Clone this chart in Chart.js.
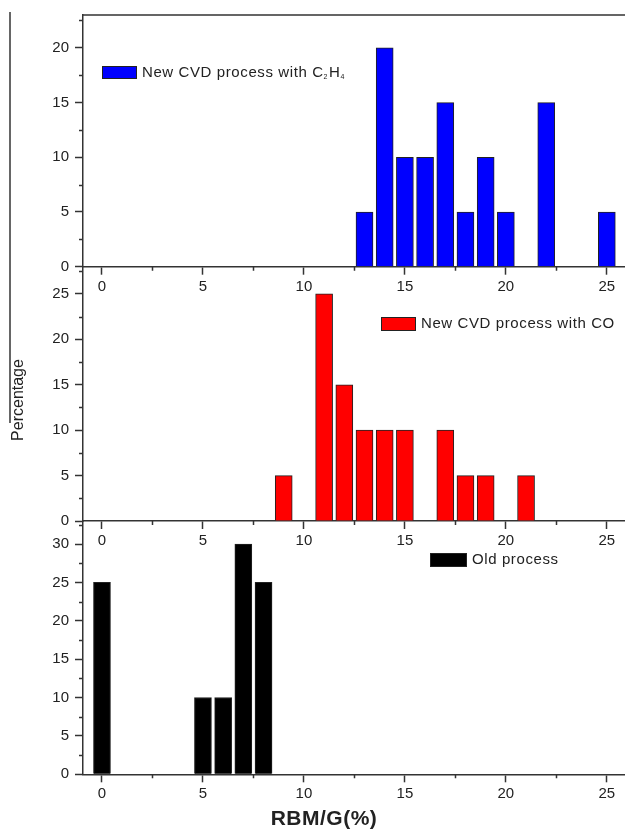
<!DOCTYPE html>
<html>
<head>
<meta charset="utf-8">
<script src="https://cdn.jsdelivr.net/npm/chart.js@4.4.1/dist/chart.umd.min.js"></script>
<style>
    html, body { margin: 0; padding: 0; background: #fff; }
    #wrap { position: relative; width: 625px; height: 831px; }
    #wrap canvas { position: absolute; left: 0; top: 0; }
</style>
</head>
<body>
<div id="wrap">
    <canvas id="c2h4Canvas" width="625" height="831"></canvas>
    <canvas id="coCanvas" width="625" height="831"></canvas>
    <canvas id="oldCanvas" width="625" height="831"></canvas>
</div>
<script>
// RBM/G (%) bins and percentage of tubes per bin, one set per process
const c2h4Bins = [13, 14, 15, 16, 17, 18, 19, 20, 22, 25];
const c2h4Percent = [5, 20, 10, 10, 15, 5, 10, 5, 15, 5];
const coBins = [9, 11, 12, 13, 14, 15, 17, 18, 19, 21];
const coPercent = [5, 25, 15, 10, 10, 10, 10, 5, 5, 5];
const oldBins = [0, 5, 6, 7, 8];
const oldPercent = [25, 10, 10, 30, 25];

// tick labels
const xTicks = [0, 5, 10, 15, 20, 25];
const xMinorTicks = [2.5, 7.5, 12.5, 17.5, 22.5];
const c2h4YTicks = [0, 5, 10, 15, 20];
const c2h4YMinor = [2.5, 7.5, 12.5, 17.5, 22.5];
const coYTicks = [0, 5, 10, 15, 20, 25];
const coYMinor = [2.5, 7.5, 12.5, 17.5, 22.5, 27.5];
const oldYTicks = [0, 5, 10, 15, 20, 25, 30];
const oldYMinor = [2.5, 7.5, 12.5, 17.5, 22.5, 27.5, 32.5];

const FONT = "'Liberation Sans', Arial, sans-serif";
const AXIS = "#333";

const panelDecor = {
    id: "panelDecor",
    afterDraw(chart, args, opts) {
        const ctx = chart.ctx;
        const { left, right, top, bottom } = chart.chartArea;
        const xs = chart.scales.x;
        const ys = chart.scales.y;
        ctx.save();
        ctx.strokeStyle = AXIS;
        ctx.lineWidth = 1.5;
        ctx.beginPath();
        opts.xMinor.forEach((v) => {
            const px = Math.round(xs.getPixelForValue(v)) + 0.5;
            ctx.moveTo(px, bottom);
            ctx.lineTo(px, bottom + 4);
        });
        opts.yMinor.forEach((v) => {
            const py = Math.round(ys.getPixelForValue(v)) + 0.5;
            ctx.moveTo(left, py);
            ctx.lineTo(left - 4, py);
        });
        if (opts.topLine) {
            ctx.moveTo(left, top);
            ctx.lineTo(right, top);
        }
        ctx.stroke();

        // legend box + label
        const lg = opts.legend;
        ctx.fillStyle = lg.color;
        ctx.fillRect(lg.x, lg.y, lg.w, lg.h);
        ctx.lineWidth = 1;
        ctx.strokeStyle = "#222";
        ctx.strokeRect(lg.x + 0.5, lg.y + 0.5, lg.w - 1, lg.h - 1);
        ctx.fillStyle = "#222";
        ctx.textBaseline = "middle";
        ctx.letterSpacing = "0.6px";
        let tx = lg.x + lg.w + 5;
        const ty = lg.y + lg.h / 2;
        lg.parts.forEach((p) => {
            ctx.font = p.sub ? "7px " + FONT : "15px " + FONT;
            ctx.fillText(p.text, tx, p.sub ? ty + 5 : ty);
            tx += ctx.measureText(p.text).width + (p.sub ? 1 : 0);
        });

        if (opts.extras) {
            ctx.letterSpacing = "0px";
            ctx.strokeStyle = AXIS;
            ctx.lineWidth = 1.5;
            ctx.beginPath();
            ctx.moveTo(10, 12);
            ctx.lineTo(10, 423);
            ctx.stroke();

            ctx.fillStyle = "#222";
            ctx.textAlign = "center";
            ctx.save();
            ctx.translate(19, 400);
            ctx.rotate(-Math.PI / 2);
            ctx.font = "16px " + FONT;
            ctx.fillText("Percentage", 0, 0);
            ctx.restore();

            ctx.font = "bold 21px " + FONT;
            ctx.letterSpacing = "0.5px";
            ctx.fillText("RBM/G(%)", 324, 819);
        }
        ctx.restore();
    }
};

function makePanel(canvasId, bins, values, color, yMax, yTicks, yMinor, top, bottom, legend, topLine, extras) {
    return new Chart(document.getElementById(canvasId).getContext("2d"), {
        type: "bar",
        data: {
            datasets: [{
                data: bins.map((b, i) => ({ x: b, y: values[i] })),
                backgroundColor: color,
                borderColor: "#222",
                borderWidth: 1,
                barThickness: 17
            }]
        },
        options: {
            responsive: false,
            animation: false,
            layout: { padding: { left: 0, right: 0, top: top, bottom: 831 - bottom - 30 } },
            plugins: {
                legend: { display: false },
                tooltip: { enabled: false },
                panelDecor: { xMinor: xMinorTicks, yMinor: yMinor, legend: legend, topLine: topLine, extras: extras }
            },
            scales: {
                x: {
                    type: "linear",
                    min: -0.94,
                    max: 25.9,
                    offset: false,
                    afterBuildTicks: (s) => { s.ticks = xTicks.map((v) => ({ value: v })); },
                    afterFit: (s) => { s.height = 30; },
                    grid: { offset: false, drawOnChartArea: false, tickLength: 8, tickColor: AXIS, tickWidth: 1.5 },
                    border: { color: AXIS, width: 1.5 },
                    ticks: { color: "#222", font: { family: FONT, size: 15 }, padding: 3, maxRotation: 0, autoSkip: false }
                },
                y: {
                    min: 0,
                    max: yMax,
                    afterBuildTicks: (s) => { s.ticks = yTicks.map((v) => ({ value: v })); },
                    afterFit: (s) => { s.width = 83; },
                    grid: { drawOnChartArea: false, tickLength: 8, tickColor: AXIS, tickWidth: 1.5 },
                    border: { color: AXIS, width: 1.5 },
                    ticks: { color: "#222", font: { family: FONT, size: 15 }, padding: 6 }
                }
            }
        },
        plugins: [panelDecor]
    });
}

makePanel("c2h4Canvas", c2h4Bins, c2h4Percent, "#0000ff", 23, c2h4YTicks, c2h4YMinor, 13.3, 266.7,
    { x: 102, y: 66, w: 35, h: 13, color: "#0000ff",
      parts: [{ text: "New CVD process with C" }, { text: "2", sub: true }, { text: "H" }, { text: "4", sub: true }] },
    true, false);

makePanel("coCanvas", coBins, coPercent, "#ff0000", 28, coYTicks, coYMinor, 266.7, 521,
    { x: 381, y: 317, w: 35, h: 14, color: "#ff0000", parts: [{ text: "New CVD process with CO" }] },
    false, false);

makePanel("oldCanvas", oldBins, oldPercent, "#000000", 33, oldYTicks, oldYMinor, 521, 774.3,
    { x: 430, y: 553, w: 37, h: 14, color: "#000000", parts: [{ text: "Old process" }] },
    false, true);
</script>
</body>
</html>
